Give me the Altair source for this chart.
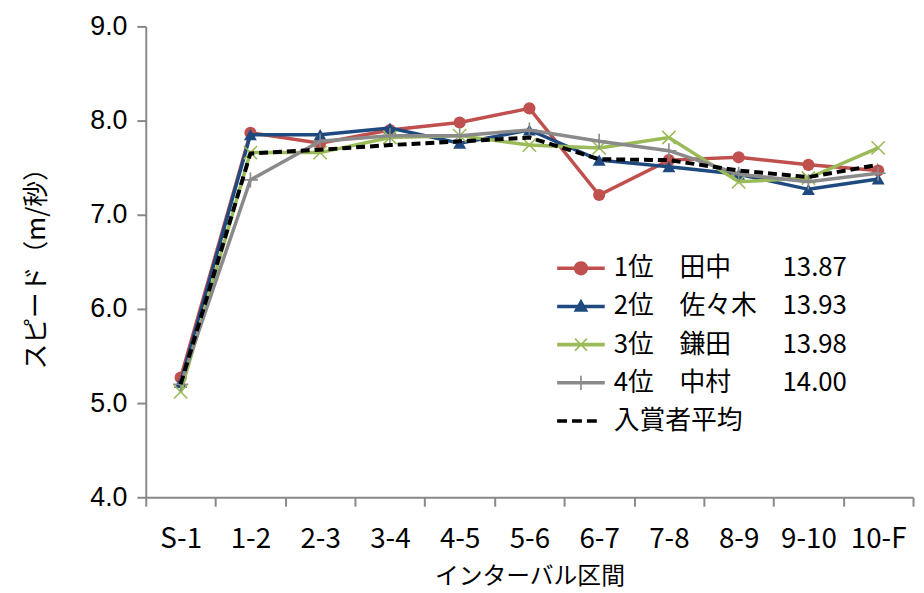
import math
import altair as alt
import pandas as pd

# ---------------- data ----------------
intervals = ["S-1", "1-2", "2-3", "3-4", "4-5", "5-6", "6-7", "7-8", "8-9", "9-10", "10-F"]
tanaka   = [5.27, 7.87, 7.76, 7.90, 7.98, 8.13, 7.21, 7.58, 7.61, 7.53, 7.47]
sasaki   = [5.22, 7.85, 7.85, 7.92, 7.76, 7.90, 7.58, 7.51, 7.43, 7.27, 7.38]
kamata   = [5.12, 7.66, 7.66, 7.82, 7.84, 7.74, 7.71, 7.82, 7.35, 7.39, 7.71]
nakamura = [5.20, 7.37, 7.78, 7.84, 7.84, 7.90, 7.78, 7.68, 7.43, 7.35, 7.44]
average  = [5.20, 7.65, 7.69, 7.74, 7.78, 7.82, 7.59, 7.58, 7.47, 7.40, 7.53]

series_labels = [
    "1位\u3000田中\u3000\u300013.87",
    "2位\u3000佐々木\u300013.93",
    "3位\u3000鎌田\u3000\u300013.98",
    "4位\u3000中村\u3000\u300014.00",
    "入賞者平均",
]
series_values = [tanaka, sasaki, kamata, nakamura, average]
colors = ["#C0504D", "#1F4A7F", "#9BBB59", "#8A8A8A", "#000000"]

rows = []
for lab, vals in zip(series_labels, series_values):
    for iv, v in zip(intervals, vals):
        rows.append({"interval": iv, "series": lab, "speed": v})
df = pd.DataFrame(rows)

JP = "Noto Sans CJK JP"
NARROW = "Liberation Sans Narrow, Arial Narrow, Noto Sans CJK JP"
SANS = "Liberation Sans, Arial, sans-serif"


# ---------------- legend symbol paths (unit coords) ----------------
def poly(pts):
    area = 0.0
    for i in range(len(pts)):
        x1, y1 = pts[i]
        x2, y2 = pts[(i + 1) % len(pts)]
        area += x1 * y2 - x2 * y1
    if area < 0:
        pts = pts[::-1]
    return "M" + "L".join(f"{x:.3f},{y:.3f}" for x, y in pts) + "Z"


def rect(x0, x1, y0, y1):
    return poly([(x0, y0), (x1, y0), (x1, y1), (x0, y1)])


def thin_line(xa, ya, xb, yb, w):
    dx, dy = xb - xa, yb - ya
    L = math.hypot(dx, dy)
    px, py = -dy / L * w, dx / L * w
    return poly([(xa + px, ya + py), (xb + px, yb + py), (xb - px, yb - py), (xa - px, ya - py)])


LH = 0.15
line_path = rect(-2, 2, -LH, LH)
circle_path = poly([(0.6 * math.cos(2 * math.pi * k / 20), 0.6 * math.sin(2 * math.pi * k / 20)) for k in range(20)])
tri_path = poly([(0, -0.65), (0.62, 0.45), (-0.62, 0.45)])
x_path = thin_line(-0.5, -0.5, 0.5, 0.5, 0.07) + thin_line(-0.5, 0.5, 0.5, -0.5, 0.07)
plus_path = rect(-0.07, 0.07, -0.6, 0.6)
dash_path = rect(-2, -1.17, -LH, LH) + rect(-0.75, 0.08, -LH, LH) + rect(0.5, 1.33, -LH, LH)

legend_shapes = [
    line_path + circle_path,
    line_path + tri_path,
    line_path + x_path,
    line_path + plus_path,
    dash_path,
]

# ---------------- chart ----------------
x_enc = alt.X(
    "interval:N",
    sort=intervals,
    bandPosition=0.5,
    scale=alt.Scale(type="band", domain=intervals, paddingInner=0, paddingOuter=0),
    axis=alt.Axis(
        title="インターバル区間",
        labelAngle=0,
        tickBand="extent",
        labelFont=NARROW,
        labelFontSize=28,
        labelPadding=20,
        titleFont=JP,
        titleFontSize=24,
        titleFontWeight="normal",
        titlePadding=11,
    ),
)
y_enc = alt.Y(
    "speed:Q",
    scale=alt.Scale(domain=[4, 9], nice=False, zero=False),
    axis=alt.Axis(
        title="スピード（m/秒）",
        values=[4, 5, 6, 7, 8, 9],
        format=".1f",
        labelFont=SANS,
        labelFontSize=27,
        labelPadding=10,
        titleFont=JP,
        titleFontSize=26,
        titleFontWeight="normal",
        titlePadding=41,
    ),
)

marker_specs = [
    dict(shape="circle", filled=True, size=150, strokeWidth=0),
    dict(shape="triangle-up", filled=True, size=170, strokeWidth=0),
    dict(shape="M-1,-1L1,1M-1,1L1,-1", filled=False, size=180, strokeWidth=1.6),
    dict(shape="M0,-1L0,1M-1,0L1,0", filled=False, size=230, strokeWidth=1.6),
]

layers = []
for i, lab in enumerate(series_labels):
    sub = alt.Chart(df).transform_filter(alt.datum.series == lab)
    if i < 4:
        ln = sub.mark_line(color=colors[i], strokeWidth=3.5)
    else:
        ln = sub.mark_line(color=colors[i], strokeWidth=4, strokeDash=[9, 5])
    layers.append(ln.encode(x=x_enc, y=y_enc))
    if i < 4:
        pt = sub.mark_point(color=colors[i], opacity=1, **marker_specs[i])
        layers.append(pt.encode(x=x_enc, y=y_enc))

legend_props = dict(
    orient="none",
    legendX=426,
    legendY=231,
    title=None,
    labelFont=JP,
    labelFontSize=26,
    labelColor="#000000",
    labelLimit=400,
    symbolSize=576,
    symbolStrokeWidth=0,
    labelOffset=20,
    rowPadding=12.5,
    padding=0,
)

legend_layer = (
    alt.Chart(df)
    .transform_filter("false")
    .mark_point(filled=True, opacity=1, strokeWidth=0)
    .encode(
        x=x_enc,
        y=y_enc,
        fill=alt.Fill(
            "series:N",
            scale=alt.Scale(domain=series_labels, range=colors),
            legend=alt.Legend(**legend_props),
        ),
        shape=alt.Shape(
            "series:N",
            scale=alt.Scale(domain=series_labels, range=legend_shapes),
            legend=alt.Legend(**legend_props),
        ),
    )
)
layers.append(legend_layer)

chart = (
    alt.layer(*layers)
    .properties(
        width=774,
        height=475,
        padding={"left": 139, "top": 16, "right": 3, "bottom": 93},
        autosize=alt.AutoSizeParams(type="none"),
        background="white",
    )
    .configure_view(stroke=None)
    .configure_axis(
        grid=False,
        domainColor="#888888",
        domainWidth=2,
        tickColor="#888888",
        tickWidth=2,
        tickSize=9,
        labelColor="#000000",
        titleColor="#000000",
    )
)

chart.save("out.html", embed_options={"renderer": "svg", "actions": False})
